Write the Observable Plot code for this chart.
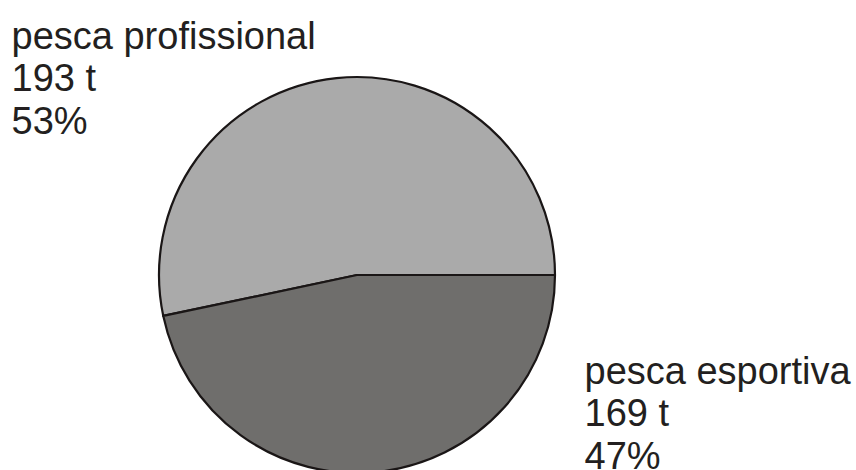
<!DOCTYPE html>
<html>
<head>
<meta charset="utf-8">
<script src="https://cdn.jsdelivr.net/npm/d3@7"></script>
<script src="https://cdn.jsdelivr.net/npm/@observablehq/plot@0.6"></script>
<style>
  html, body { margin: 0; padding: 0; background: #fff; }
  #chart svg { display: block; }
</style>
</head>
<body>
<div id="chart"></div>
<script>
const categories = ["pesca profissional", "pesca esportiva"];
const tonnes = [193, 169];
const percents = [53, 47];
const colors = ["#aaaaaa", "#6f6e6c"];

const W = 856, H = 470;
const cx = 357, cy = 275, R = 198;

const data = categories.map((c, i) => ({
  category: c, tonnes: tonnes[i], percent: percents[i],
  label: `${c}\n${tonnes[i]} t\n${percents[i]}%`
}));

const pieMark = (index, scales, values, dimensions) => {
  const pie = d3.pie().value(d => d.tonnes).sort(null)
    .startAngle(Math.PI / 2).endAngle(Math.PI / 2 - 2 * Math.PI);
  const arc = d3.arc().innerRadius(0).outerRadius(R);
  const g = d3.create("svg:g").attr("transform", `translate(${cx},${cy})`);
  g.selectAll("path").data(pie(data)).join("path")
    .attr("d", arc)
    .attr("fill", d => scales.color(d.data.category))
    .attr("stroke", "#1a1616")
    .attr("stroke-width", 2.2)
    .attr("stroke-linejoin", "round");
  return g.node();
};

const chart = Plot.plot({
  width: W,
  height: H,
  margin: 0,
  style: { fontFamily: "'Liberation Sans', Arial, sans-serif", background: "#fff" },
  color: { domain: categories, range: colors },
  x: { axis: null },
  y: { axis: null },
  marks: [
    pieMark,
    Plot.text([data[0]], {
      text: "label", frameAnchor: "top-left", textAnchor: "start", lineAnchor: "top",
      dx: 11, dy: 18, lineHeight: 1.12, fontSize: 38, fill: "#231f20"
    }),
    Plot.text([data[1]], {
      text: "label", frameAnchor: "top-left", textAnchor: "start", lineAnchor: "top",
      dx: 584, dy: 353, lineHeight: 1.12, fontSize: 38, fill: "#231f20"
    })
  ]
});
document.getElementById("chart").appendChild(chart);
</script>
</body>
</html>
